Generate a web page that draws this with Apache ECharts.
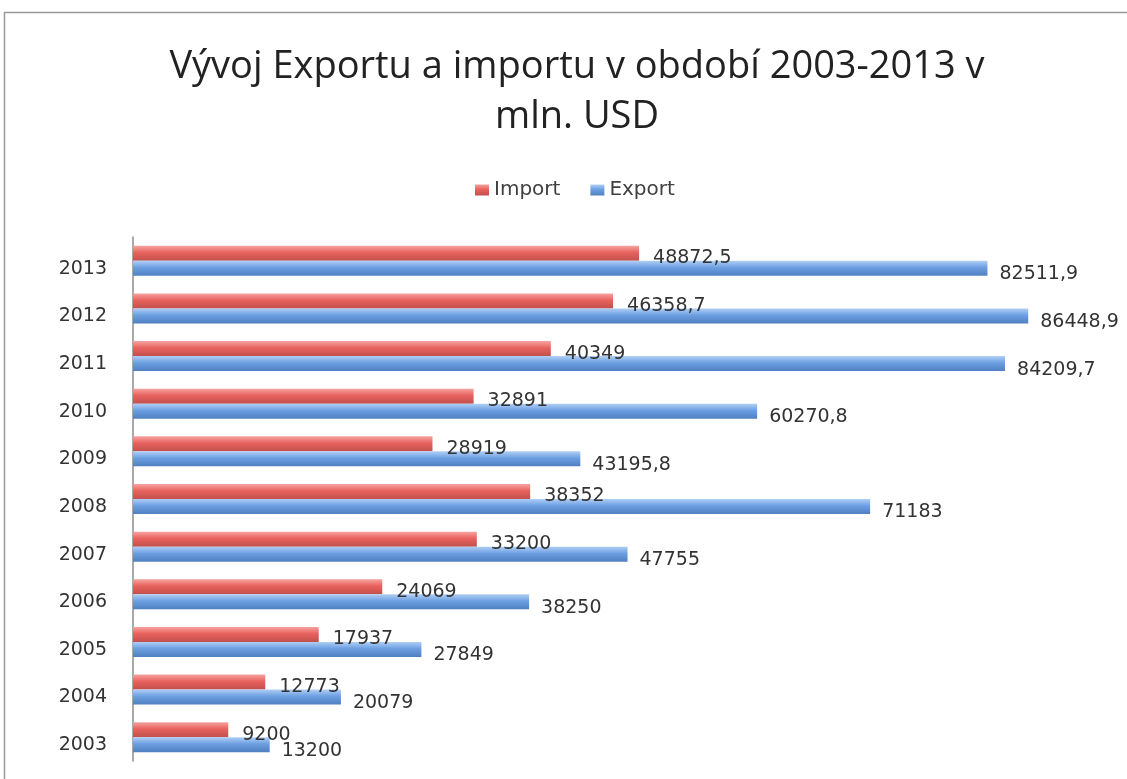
<!DOCTYPE html>
<html>
<head>
<meta charset="utf-8">
<script src="https://cdn.jsdelivr.net/npm/echarts@6/dist/echarts.min.js"></script>
<style>
html,body{margin:0;padding:0;background:#fff;}
#main{width:1127px;height:779px;}
</style>
</head>
<body>
<div id="main"></div>
<script>
var categories = ['2003','2004','2005','2006','2007','2008','2009','2010','2011','2012','2013'];
var importValues = [9200, 12773, 17937, 24069, 33200, 38352, 28919, 32891, 40349, 46358.7, 48872.5];
var exportValues = [13200, 20079, 27849, 38250, 47755, 71183, 43195.8, 60270.8, 84209.7, 86448.9, 82511.9];
var titleText = 'Vývoj Exportu a importu v období 2003-2013 v\nmln. USD';
var seriesNames = ['Import', 'Export'];

function grad(c1, c2, c3) {
  return new echarts.graphic.LinearGradient(0, 0, 0, 1, [
    {offset: 0, color: c1}, {offset: 0.45, color: c2}, {offset: 1, color: c3}
  ]);
}
function fmt(p) { return String(p.value).replace('.', ','); }

var chart = echarts.init(document.getElementById('main'));
chart.setOption({
  backgroundColor: '#fff',
  animation: false,
  graphic: [{
    type: 'rect', shape: {x: 4.5, y: 12.5, width: 1200, height: 900},
    style: {fill: 'none', stroke: '#9a9a9a', lineWidth: 1.5}, silent: true
  }],
  title: {
    text: titleText, left: 572, textAlign: 'center', top: 37,
    textStyle: {fontFamily: 'Open Sans', fontSize: 38, fontWeight: 'normal', color: '#222', lineHeight: 50}
  },
  legend: {
    data: seriesNames, top: 175, left: 470, itemWidth: 14, itemHeight: 11, itemGap: 30,
    icon: 'rect',
    textStyle: {fontFamily: 'DejaVu Sans', fontSize: 20, color: '#404040'}
  },
  grid: {left: 133, right: 62, top: 237, bottom: 18, containLabel: false},
  xAxis: {type: 'value', min: 0, max: 90000, show: false},
  yAxis: {
    type: 'category', data: categories, offset: 4,
    axisLine: {show: true, lineStyle: {color: '#8c8c8c', width: 1.5}},
    axisTick: {show: false},
    axisLabel: {fontFamily: 'DejaVu Sans', fontSize: 19, color: '#333', margin: 22, verticalAlign: 'top', lineHeight: 16}
  },
  series: [
    {
      name: 'Import', type: 'bar', data: importValues, barWidth: 15, barGap: '0%',
      itemStyle: {color: grad('#f6a3a0', '#e8625e', '#c2504c')},
      label: {show: true, position: 'right', distance: 14, offset: [0, 5], formatter: fmt,
        fontFamily: 'DejaVu Sans', fontSize: 19, color: '#333'}
    },
    {
      name: 'Export', type: 'bar', data: exportValues, barWidth: 15, barGap: '0%',
      itemStyle: {color: grad('#b0cff5', '#6c9fe2', '#4f7fc0')},
      label: {show: true, position: 'right', distance: 12, offset: [0, 6], formatter: fmt,
        fontFamily: 'DejaVu Sans', fontSize: 19, color: '#333'}
    }
  ]
});
</script>
</body>
</html>
